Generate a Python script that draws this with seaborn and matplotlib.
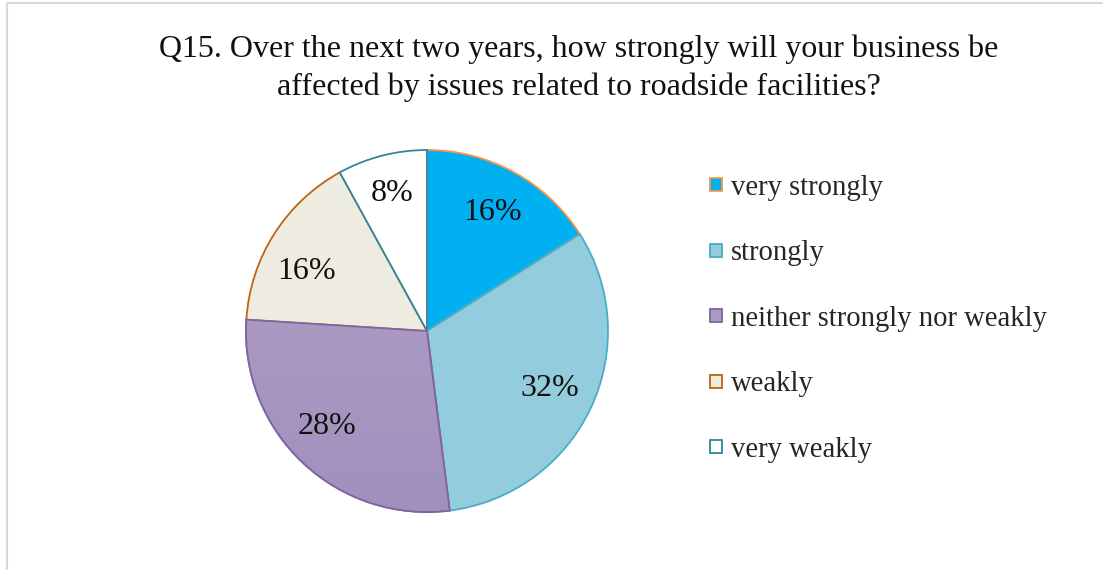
import numpy as np
import matplotlib
matplotlib.use("Agg")
import matplotlib.pyplot as plt
import seaborn as sns
from matplotlib.lines import Line2D
from matplotlib.patches import Patch, Wedge

sns.set_theme(style="white")
plt.rcParams["font.family"] = ["Liberation Serif", "DejaVu Serif"]

categories = ["very strongly", "strongly", "neither strongly nor weakly", "weakly", "very weakly"]
shares = [16, 32, 28, 16, 8]
fills = ["#00B0F0", "#93CDDD", "#AB9BC4", "#EEECE1", "#FFFFFF"]
edges = ["#F79646", "#4BACC6", "#8064A2", "#C0640F", "#31859C"]
title = ("Q15. Over the next two years, how strongly will your business be\n"
         "affected by issues related to roadside facilities?")

W, H = 1103, 570
fig = plt.figure(figsize=(W / 100, H / 100), dpi=100)
ax = fig.add_axes([0, 0, 1, 1])

cx, cy, r = 427, H - 331, 181
wedges, texts, autotexts = ax.pie(
    shares, colors=fills, startangle=90, counterclock=False,
    center=(cx, cy), radius=r, autopct="%1.0f%%", pctdistance=0.75,
    wedgeprops=dict(linewidth=1.3), frame=True,
    textprops=dict(fontsize=23, color="#111111"),
)
ax.set_xlim(0, W)
ax.set_ylim(0, H)
ax.set_aspect("equal")
ax.axis("off")
for w, ec in zip(wedges, edges):
    w.set_edgecolor(ec)

# soft vertical gradient on the middle wedge
grad = np.linspace(0, 1, 256).reshape(-1, 1)
top = np.array([0xB3, 0xA2, 0xC7]) / 255
bot = np.array([0xA0, 0x90, 0xBC]) / 255
img = top[None, None, :] * (1 - grad[:, :, None]) + bot[None, None, :] * grad[:, :, None]
ext = (cx - r, cx + r, cy - r, cy + r)
im = ax.imshow(img, extent=ext, origin="upper", aspect="auto",
               zorder=wedges[2].get_zorder() + 0.1)
im.set_clip_path(wedges[2])
w2 = wedges[2]
outline = Wedge(w2.center, w2.r, w2.theta1, w2.theta2, fill=False,
                edgecolor=edges[2], linewidth=1.3, zorder=im.get_zorder() + 0.1)
ax.add_patch(outline)
ax.set_xlim(0, W)
ax.set_ylim(0, H)
for t in autotexts:
    t.set_zorder(10)

# small label nudges (pixel offsets)
nudges = {2: (-7, 3), 3: (-6, -13), 4: (-1, 6)}
for i, (dx, dy) in nudges.items():
    x0, y0 = autotexts[i].get_position()
    autotexts[i].set_position((x0 + dx, y0 + dy))

fig.text(579 / W, 1 - 68 / H, title, ha="center", va="center",
         fontsize=23, linespacing=1.37, color="#111111")

handles = [Patch(facecolor=f, edgecolor=e, linewidth=1.3) for f, e in zip(fills, edges)]
leg = fig.legend(handles, categories, loc="upper left", bbox_to_anchor=(710 / W, 1 - 175 / H),
                 frameon=False, fontsize=20.6, handlelength=0.42, handleheight=0.32,
                 handletextpad=0.3, labelspacing=1.38, borderaxespad=0, borderpad=0)

# light chart-area border
fig.add_artist(Line2D([7 / W, 7 / W, 1], [0, 1 - 3 / H, 1 - 3 / H],
                      transform=fig.transFigure, color="#D9D9D9", linewidth=1.5))

fig.savefig("out.png", dpi=100, facecolor="white")
